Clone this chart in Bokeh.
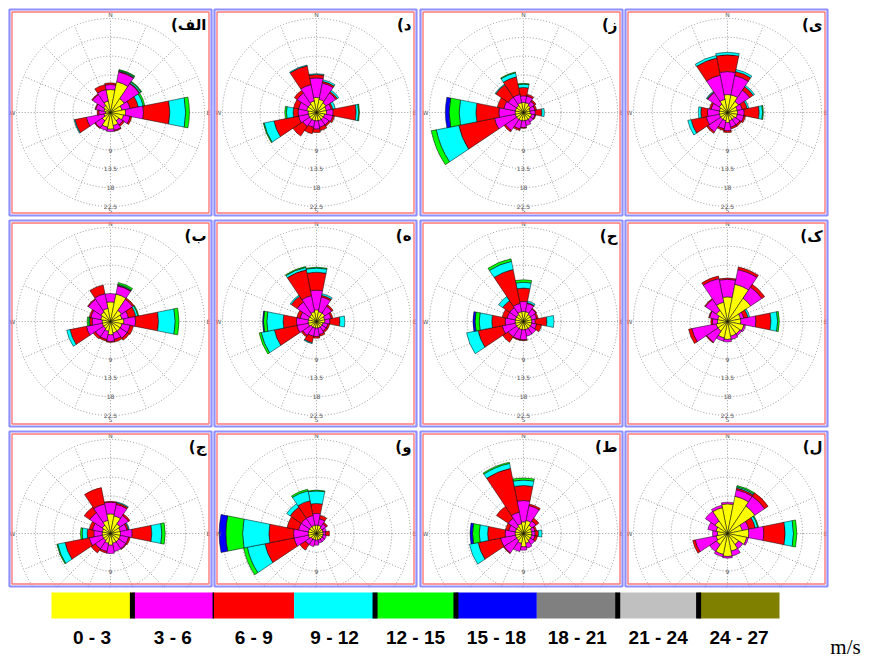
import math
from bokeh.plotting import figure
from bokeh.models import Range1d, ColumnDataSource
from bokeh.embed import file_html
from bokeh.resources import INLINE
from bokeh.core.properties import value

# ---------------- data ----------------
directions = ["N", "NNE", "NE", "ENE", "E", "ESE", "SE", "SSE",
              "S", "SSW", "SW", "WSW", "W", "WNW", "NW", "NNW"]
speed_labels = ["0 - 3", "3 - 6", "6 - 9", "9 - 12", "12 - 15",
                "15 - 18", "18 - 21", "21 - 24", "24 - 27"]
speed_colors = ["#ffff00", "#ff00ff", "#ff0000", "#00ffff", "#00ff00",
                "#0000ff", "#808080", "#c0c0c0", "#808000"]
ring_values = [4.5, 9, 13.5, 18, 22.5]
ring_labels = ["", "9", "13.5", "18", "22.5"]
panel_letters = ["الف", "د", "ز", "ی",
                 "ب", "ه", "ح", "ک",
                 "ج", "و", "ط", "ل"]

# frequency (%) per direction (N .. NNW), per speed class
rose_alef = [[5.5, 1.2, 0.4], [7.5, 2.4, 0.2, 0.2, 0.2], [4.0, 4.3, 0.2, 0.3, 0.2], [2.8, 2.0, 2.0, 1.2, 0.4],
             [3.6, 4.3, 6.3, 3.8, 0.9], [3.2, 1.6, 0.4], [2.4, 1.2, 0.4], [3.2, 1.2, 0.2],
             [4.0, 0.6], [3.6, 0.8], [2.4, 2.0, 0.2], [1.6, 4.3, 2.8, 0.2],
             [1.2, 1.6, 0.4], [1.6, 2.0, 0.2], [2.0, 3.2, 0.2], [2.8, 2.8, 1.2]]
rose_dal = [[3.6, 4.7, 0.8, 0.2], [3.2, 4.0, 0.4, 0.4], [2.8, 2.8, 0.4, 0.4], [2.4, 1.2, 0.4, 0.6],
            [2.4, 1.6, 5.5, 0.6, 0.2], [2.0, 2.0, 0.4], [2.0, 1.6, 0.4], [2.0, 1.6, 0.8],
            [2.0, 2.0, 0.8], [2.0, 1.6, 1.6], [2.0, 2.0, 2.8], [2.0, 2.4, 6.0, 2.4, 0.2],
            [2.0, 2.4, 1.2, 1.6, 0.4], [2.4, 2.0, 1.2], [2.4, 3.2, 0.8], [2.8, 4.0, 4.6, 0.2]]
rose_ze = [[2.4, 1.6, 2.0, 0.8, 0.2], [2.4, 1.6, 0.4], [2.0, 1.2, 0.4], [1.6, 1.2, 0.4],
           [1.6, 1.2, 1.6, 0.6], [2.0, 0.8, 0.2], [2.0, 0.8], [2.0, 1.2],
           [2.0, 1.6, 0.2], [2.0, 2.0, 0.4], [2.0, 3.2, 0.4], [2.0, 5.1, 8.7, 5.5, 1.2],
           [2.0, 3.9, 5.5, 4.0, 2.4, 0.9], [2.0, 2.8, 1.6], [2.0, 2.4, 3.6, 0.2], [2.4, 2.0, 4.3, 1.0, 0.2]]
rose_ye = [[4.3, 5.5, 4.0, 0.6], [4.3, 4.7, 1.0, 0.5], [3.2, 3.2, 1.0, 0.4], [2.4, 1.2, 1.2, 0.4],
           [2.4, 1.6, 3.6, 0.8, 0.2], [2.4, 1.6, 0.4], [2.0, 1.6, 0.4], [2.0, 1.6, 0.4],
           [2.4, 2.0, 0.4], [2.0, 2.0, 0.4], [2.0, 3.6, 0.4], [2.0, 3.2, 3.7, 0.8],
           [2.0, 2.8, 1.6, 0.6], [2.0, 2.0, 0.4], [2.4, 3.3, 0.2, 0.2], [3.2, 5.9, 4.2, 0.6]]
rose_be = [[4.7, 2.0], [6.7, 2.0, 0.2, 0.2, 0.4], [3.2, 3.2, 0.4], [2.8, 1.6, 1.8, 0.5, 0.2],
           [3.2, 2.8, 5.5, 4.0, 0.9], [2.8, 2.0, 0.8], [2.8, 2.0, 0.6], [2.8, 1.6, 0.6],
           [3.2, 1.6, 0.2], [2.4, 2.0, 0.4], [2.0, 2.4, 0.6], [2.0, 3.9, 4.0, 0.8],
           [2.0, 2.4, 0.6, 0.2, 0.4], [2.4, 2.4, 0.4], [2.8, 3.6, 0.2], [3.2, 3.6, 2.1]]
rose_heh = [[2.8, 4.7, 4.3, 1.0, 0.2], [2.4, 3.6, 0.4, 0.4], [2.4, 2.0, 0.4], [2.0, 1.6, 0.4],
            [2.0, 1.2, 2.4, 1.2], [1.6, 1.2, 0.4], [1.6, 1.2, 0.4], [1.6, 1.6, 0.4],
            [1.6, 2.0, 0.4], [1.6, 2.0, 1.6, 0.2], [1.6, 2.4, 0.4], [2.0, 2.8, 5.5, 3.2, 0.5],
            [2.0, 2.8, 3.2, 3.9, 0.8, 0.2], [2.0, 2.0, 0.8], [2.0, 3.6, 1.7, 0.3], [2.4, 3.9, 6.3, 0.6, 0.2]]
rose_hah = [[2.4, 2.4, 3.2, 1.4, 0.6], [2.4, 2.0, 0.2, 0.4], [2.0, 1.6, 0.2], [2.0, 1.2, 0.4],
            [2.0, 0.8, 2.8, 1.7], [2.0, 1.2, 1.2], [2.0, 1.6], [2.0, 1.6],
            [2.0, 2.4, 0.2], [2.0, 2.4, 0.2], [2.0, 2.4, 1.6], [2.0, 3.2, 5.9, 2.8],
            [2.0, 2.4, 3.2, 3.0, 1.0, 0.5], [2.0, 2.0, 1.2], [2.0, 2.0, 2.0, 1.2], [2.4, 2.0, 8.3, 2.0, 0.6]]
rose_kaf = [[5.9, 4.2, 0.3], [9.1, 3.6, 0.6], [6.7, 3.2, 0.8], [3.2, 0.8, 1.0, 0.4],
            [3.2, 3.6, 3.6, 1.6, 0.4], [4.0, 0.4], [3.6, 0.5], [3.6, 0.8],
            [4.3, 0.6], [4.0, 0.8], [2.8, 3.2, 0.2], [2.8, 5.9, 0.8],
            [2.4, 1.2, 0.4], [2.4, 2.0, 0.2], [3.2, 3.2, 0.2], [4.7, 5.8, 0.6]]
rose_jim = [[4.7, 2.8, 0.2], [4.3, 2.8, 0.4, 0.2], [2.8, 2.4, 0.4], [2.4, 1.6, 0.4, 0.2],
            [2.4, 2.8, 4.7, 2.4, 0.8], [2.4, 2.0, 0.4], [2.4, 2.0, 0.2], [2.4, 2.0],
            [2.8, 2.0], [2.4, 2.0, 0.4], [2.0, 2.4, 1.2], [2.0, 3.2, 5.9, 1.8, 0.2],
            [2.0, 2.0, 1.6, 1.2, 0.4], [2.0, 2.4, 0.8], [2.4, 3.6, 1.6], [3.2, 4.0, 4.0]]
rose_vav = [[2.0, 2.8, 2.4, 3.0, 0.2], [2.0, 1.6, 0.8], [1.6, 1.2, 0.4], [1.6, 0.8],
            [1.6, 0.6, 0.9], [1.6, 0.8], [1.6, 0.8], [1.6, 0.8],
            [1.6, 1.2], [1.6, 1.6], [1.6, 1.6, 1.6], [2.0, 3.5, 7.1, 4.3, 0.9],
            [2.0, 3.5, 5.9, 6.3, 4.0, 1.6], [2.0, 2.4, 2.8], [2.0, 2.4, 3.2, 1.0], [2.0, 2.4, 3.6, 2.4, 0.4]]
rose_ta = [[2.8, 5.1, 3.6, 1.3, 0.5], [3.2, 3.6, 0.4], [2.4, 1.2, 0.8], [2.0, 0.8, 0.4],
           [2.0, 0.8, 0.8, 0.8], [2.0, 0.8, 0.6], [2.0, 1.2], [2.4, 1.2],
           [3.2, 0.8], [2.4, 2.0], [2.0, 3.6, 0.2], [2.0, 3.6, 5.5, 2.1],
           [2.0, 2.4, 4.2, 2.0, 1.6, 0.6], [2.0, 1.6, 0.8], [2.0, 2.4, 3.4], [2.4, 2.8, 10.7, 1.2, 0.3]]
rose_lam = [[7.1, 0.4], [9.1, 1.6, 0.4, 0.3, 0.3], [7.9, 2.8, 1.0], [3.6, 1.6, 1.6, 0.6, 0.2],
            [5.1, 3.6, 5.1, 2.0, 0.8], [4.7, 0.4], [3.2, 1.2], [4.3, 1.2],
            [5.5, 0.4], [5.1, 0.6], [3.2, 2.0], [2.8, 5.1, 0.6],
            [2.4, 1.2], [2.8, 2.0], [3.6, 2.8], [6.3, 0.6]]

roses = [rose_alef, rose_dal, rose_ze, rose_ye,
         rose_be, rose_heh, rose_hah, rose_kaf,
         rose_jim, rose_vav, rose_ta, rose_lam]

# ---------------- layout ----------------
W, H = 885, 658
col_left = [9, 214, 420, 625]
panel_w = 202
row_top = [9, 220, 431]
row_bottom = [215, 426, 586]
center_x = [110, 316, 523, 727]
center_y = [112, 321, 533]
outer_px = 94.0
px_per_unit = outer_px / ring_values[-1]
half = math.radians(11.25)


def Y(yi):
    return H - yi


p = figure(width=W, height=H, x_range=Range1d(0, W), y_range=Range1d(0, H),
           output_backend="svg", toolbar_location=None, min_border=0,
           x_axis_location=None, y_axis_location=None,
           outline_line_color=None, background_fill_color="white",
           border_fill_color="white")
p.grid.visible = False

ring_x, ring_y, ring_r = [], [], []
sp = dict(x0=[], y0=[], x1=[], y1=[])
wd = dict(x=[], y=[], ri=[], ro=[], a0=[], a1=[], c=[])
lab = dict(x=[], y=[], t=[])
dirlab = dict(x=[], y=[], t=[])

for k, rose in enumerate(roses):
    r_i, c_i = divmod(k, 4)
    cx, cy = center_x[c_i], Y(center_y[r_i])
    for j, rv in enumerate(ring_values):
        ring_x.append(cx); ring_y.append(cy); ring_r.append(rv * px_per_unit)
        if ring_labels[j]:
            lab["x"].append(cx); lab["y"].append(cy - rv * px_per_unit); lab["t"].append(ring_labels[j])
    r1 = ring_values[0] * px_per_unit
    for d in range(16):
        th = math.radians(90 - d * 22.5)
        sp["x0"].append(cx + r1 * math.cos(th)); sp["y0"].append(cy + r1 * math.sin(th))
        sp["x1"].append(cx + outer_px * math.cos(th)); sp["y1"].append(cy + outer_px * math.sin(th))
    for t, (dx, dy) in zip(["N", "E", "S", "W"], [(0, 1), (1, 0), (0, -1), (-1, 0)]):
        dirlab["x"].append(cx + dx * (outer_px + 4)); dirlab["y"].append(cy + dy * (outer_px + 4)); dirlab["t"].append(t)
    for d, vals in enumerate(rose):
        th = math.radians(90 - d * 22.5)
        cum = 0.0
        for b, v in enumerate(vals):
            wd["x"].append(cx); wd["y"].append(cy)
            wd["ri"].append(cum * px_per_unit)
            cum += v
            wd["ro"].append(cum * px_per_unit)
            wd["a0"].append(th - half); wd["a1"].append(th + half)
            wd["c"].append(speed_colors[b])

# grid
p.circle(x=ring_x, y=ring_y, radius=ring_r, fill_color=None,
         line_color="#8c8c8c", line_dash="1 2", line_width=0.9)
p.segment(x0="x0", y0="y0", x1="x1", y1="y1", source=ColumnDataSource(sp),
          line_color="#8c8c8c", line_dash="1 2", line_width=0.9)

# wind rose bars
p.annular_wedge(x="x", y="y", inner_radius="ri", outer_radius="ro",
                start_angle="a0", end_angle="a1", fill_color="c",
                line_color="black", line_width=0.5, source=ColumnDataSource(wd))

p.text(x="x", y="y", text="t", source=ColumnDataSource(lab), text_font_size="6px",
       text_align="center", text_baseline="middle", text_color="#555555",
       text_font=value("DejaVu Sans"))
p.text(x="x", y="y", text="t", source=ColumnDataSource(dirlab), text_font_size="6px",
       text_align="center", text_baseline="middle", text_color="#555555",
       text_font=value("DejaVu Sans"))

# cover below the panels
p.quad(left=[0], right=[W], bottom=[0], top=[Y(587)], fill_color="white", line_color=None)

# panel frames and letters
fl, fr, ft, fb = [], [], [], []
lx, ly, lt = [], [], []
for k in range(12):
    r_i, c_i = divmod(k, 4)
    fl.append(col_left[c_i]); fr.append(col_left[c_i] + panel_w)
    ft.append(Y(row_top[r_i])); fb.append(Y(row_bottom[r_i]))
    lx.append(col_left[c_i] + panel_w - 5); ly.append(Y(row_top[r_i] + 15))
    lt.append(panel_letters[k] + ")\u200f")
p.quad(left=fl, right=fr, top=ft, bottom=fb, fill_color=None,
       line_color="#8f8fff", line_width=2.2)
p.quad(left=[v + 2.5 for v in fl], right=[v - 2.5 for v in fr],
       top=[v - 2.5 for v in ft], bottom=[v + 2.5 for v in fb], fill_color=None,
       line_color="#ff7a7a", line_width=1.4)
p.text(x=lx, y=ly, text=lt, text_font_size="15px", text_font_style="bold",
       text_align="right", text_baseline="middle", text_color="black",
       text_font=value("DejaVu Sans"))

# colour legend
bar_l, bar_r = 51, 779
seg = (bar_r - bar_l) / len(speed_colors)
p.quad(left=[bar_l + i * seg for i in range(9)], right=[bar_l + (i + 1) * seg for i in range(9)],
       bottom=[Y(618)] * 9, top=[Y(592)] * 9, fill_color=speed_colors, line_color=None)
sep_idx = [1, 4, 5, 7, 8]
p.quad(left=[bar_l + i * seg - 2.5 for i in sep_idx], right=[bar_l + i * seg + 2.5 for i in sep_idx],
       bottom=[Y(618)] * len(sep_idx), top=[Y(592)] * len(sep_idx), fill_color="black", line_color=None)
p.quad(left=[bar_l + 2 * seg - 0.7], right=[bar_l + 2 * seg + 0.7],
       bottom=[Y(618)], top=[Y(592)], fill_color="black", line_color=None)
p.text(x=[bar_l + (i + 0.5) * seg for i in range(9)], y=[Y(637)] * 9, text=speed_labels,
       text_font_size="19px", text_font_style="bold", text_align="center",
       text_baseline="middle", text_color="black",
       text_font=value("Liberation Sans"))
p.text(x=[845], y=[Y(646)], text=["m/s"], text_font_size="21px", text_align="center",
       text_baseline="middle", text_color="black", text_font=value("Liberation Serif"))

open("out.html", "w").write(file_html(p, INLINE))
